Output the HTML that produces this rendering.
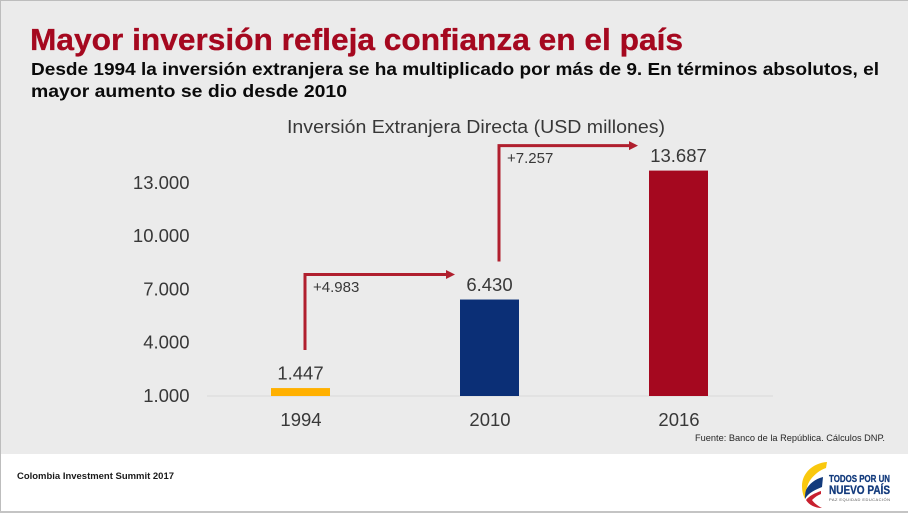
<!DOCTYPE html>
<html lang="es">
<head>
<meta charset="utf-8">
<title>Mayor inversión refleja confianza en el país</title>
<style>
html,body{margin:0;padding:0;background:#fff;}
#slide{display:block;width:908px;height:513px;font-family:"Liberation Sans",sans-serif;}
</style>
</head>
<body>
<svg id="slide" xmlns="http://www.w3.org/2000/svg" width="908" height="513" viewBox="0 0 908 513">
  <rect x="0" y="0" width="908" height="454" fill="#ebebeb"/>
  <rect x="0" y="454" width="908" height="59" fill="#ffffff"/>
  <rect x="0" y="0" width="908" height="1" fill="#bdbdbd"/>
  <rect x="0" y="0" width="1" height="512" fill="#bdbdbd"/>
  <rect x="0" y="511" width="908" height="2" fill="#c4c4c4"/>

  <text x="30" y="50" font-size="31" font-weight="700" fill="#a5081f" stroke="#a5081f" stroke-width="0.3" textLength="653" lengthAdjust="spacingAndGlyphs">Mayor inversión refleja confianza en el país</text>
  <text x="31" y="75" font-size="17.5" font-weight="700" fill="#0a0a0a" textLength="848" lengthAdjust="spacingAndGlyphs">Desde 1994 la inversión extranjera se ha multiplicado por más de 9. En términos absolutos, el</text>
  <text x="31" y="97" font-size="17.5" font-weight="700" fill="#0a0a0a" textLength="316" lengthAdjust="spacingAndGlyphs">mayor aumento se dio desde 2010</text>

  <text x="287" y="133" font-size="18" fill="#383838" textLength="378" lengthAdjust="spacingAndGlyphs">Inversión Extranjera Directa (USD millones)</text>

  <g id="chart"></g>

  <text x="695" y="441" font-size="9.5" fill="#262626" textLength="190" lengthAdjust="spacingAndGlyphs">Fuente: Banco de la República. Cálculos DNP.</text>
  <text x="17" y="479" font-size="9.5" font-weight="700" fill="#1a1a1a" textLength="157" lengthAdjust="spacingAndGlyphs">Colombia Investment Summit 2017</text>

  <g>
    <path d="M827 462C813 463 802 473 802 486C802 491 803 495 805 499C806 491 807 484 811 479C815 474 820 470 826 468Z" fill="#f9c80e"/>
    <path d="M823 477C815 479 809 484 806 490C805 493 805 496 805 499C808 493 815 490 822 487Z" fill="#123a7c"/>
    <path d="M821 491C815 493 809 496 806 500C809 505 815 508 822 508C818 506 814 503 812 500C815 497 818 495 821 494Z" fill="#c8202f"/>
    <text x="829" y="482" font-size="10" font-weight="700" fill="#123a7c" stroke="#123a7c" stroke-width="0.3" textLength="61" lengthAdjust="spacingAndGlyphs">TODOS POR UN</text>
    <text x="829" y="494" font-size="11.5" font-weight="700" fill="#123a7c" stroke="#123a7c" stroke-width="0.3" textLength="61" lengthAdjust="spacingAndGlyphs">NUEVO PAÍS</text>
    <text x="829" y="501" font-size="4" fill="#555555" textLength="61" lengthAdjust="spacing">PAZ EQUIDAD EDUCACIÓN</text>
  </g>
</svg>

<script>
var categories = ['1994', '2010', '2016'];
var seriesValues = [1447, 6430, 13687];
var valueLabels = ['1.447', '6.430', '13.687'];
var barColors = ['#ffb000', '#0b2f76', '#a5081f'];
var tickValues = [1000, 4000, 7000, 10000, 13000];
var tickLabels = ['1.000', '4.000', '7.000', '10.000', '13.000'];
var deltaLabels = ['+4.983', '+7.257'];

var SVG_NS = 'http://www.w3.org/2000/svg';
var chart = document.getElementById('chart');

function yScale(v) {
  return 396 - (v - 1000) * (53.3 / 3000);
}
function xScale(i) {
  return 300.5 + i * 189;
}
function make(tag, attrs, text) {
  var el = document.createElementNS(SVG_NS, tag);
  for (var k in attrs) {
    el.setAttribute(k, attrs[k]);
  }
  if (text !== undefined) {
    el.textContent = text;
  }
  chart.appendChild(el);
  return el;
}

tickValues.forEach(function (v, i) {
  var t = make('text', {x: 189.5, y: yScale(v) + 6, 'font-size': 18.5, 'text-anchor': 'end', fill: '#383838'}, tickLabels[i]);
  
  
});

var axis = make('line', {x1: 207, x2: 773, y1: yScale(1000), y2: yScale(1000), stroke: '#d9d9d9', 'stroke-width': 1});



categories.forEach(function (c, i) {
  var top = yScale(seriesValues[i]);
  var bar = make('rect', {x: xScale(i) - 29.5, y: top, width: 59, height: yScale(1000) - top, fill: barColors[i]});
  
  

  var value = make('text', {x: xScale(i), y: top - 8.5, 'font-size': 18.5, 'text-anchor': 'middle', fill: '#383838'}, valueLabels[i]);
  
  

  var year = make('text', {x: xScale(i) + 0.5, y: 426, 'font-size': 18.5, 'text-anchor': 'middle', fill: '#383838'}, c);
  
  
});

deltaLabels.forEach(function (label, i) {
  var x0 = i === 0 ? xScale(0) + 4.5 : xScale(1) + 9.5;
  var yStart = yScale(seriesValues[i]) - 38;
  var yTurn = yScale(seriesValues[i + 1]) - 25;
  var tip = xScale(i + 1) - (i === 0 ? 34.5 : 40.5);

  var path = make('path', {d: 'M' + x0 + ' ' + yStart + 'V' + yTurn + 'H' + (tip - 8), fill: 'none', stroke: '#b01f2e', 'stroke-width': 3});
  
  

  var head = make('path', {d: 'M' + tip + ' ' + yTurn + 'L' + (tip - 9) + ' ' + (yTurn - 4.5) + 'V' + (yTurn + 4.5) + 'Z', fill: '#b01f2e'});
  
  

  var delta = make('text', {x: x0 + 8, y: yTurn + 17.5, 'font-size': 15, fill: '#383838'}, label);
  
  
});
</script>
</body>
</html>
